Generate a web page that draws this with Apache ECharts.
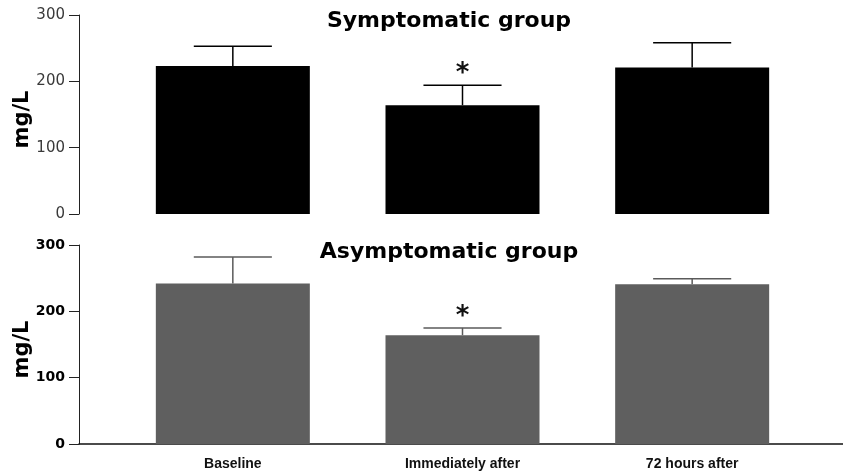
<!DOCTYPE html>
<html>
<head>
<meta charset="utf-8">
<title>Serum levels by group</title>
<script src="https://cdn.jsdelivr.net/npm/echarts@6/dist/echarts.min.js"></script>
<style>
  html, body { margin: 0; padding: 0; background: #ffffff; }
  #chart { width: 843px; height: 475px; }
</style>
</head>
<body>
<div id="chart"></div>
<script>
// Time points
const categories = ['Baseline', 'Immediately after', '72 hours after'];

// Symptomatic group: means and standard deviations (mg/L)
const symptomaticMean = [223, 164, 221];
const symptomaticSD = [30, 30, 37];

// Asymptomatic group: means and standard deviations (mg/L)
const asymptomaticMean = [242, 164, 241];
const asymptomaticSD = [40, 11, 8];

// Significance markers above each bar
const symptomaticSig = ['', '*', ''];
const asymptomaticSig = ['', '*', ''];

// Y axis ticks
const yTicks = [0, 100, 200, 300];

const chart = echarts.init(document.getElementById('chart'), null, { renderer: 'canvas' });

// Error bar drawn upward from the bar top (mean -> mean + SD), with a cap and optional marker
function errorBarRenderer(means, sds, sigs, color) {
  return function (params, api) {
    const i = api.value(0);
    const base = api.coord([i, means[i]]);
    const top = api.coord([i, means[i] + sds[i]]);
    const band = api.size([1, 0])[0];
    const half = band * 0.17;
    const children = [
      {
        type: 'line',
        shape: { x1: base[0], y1: base[1], x2: top[0], y2: top[1] },
        style: { stroke: color, lineWidth: 1.5 }
      },
      {
        type: 'line',
        shape: { x1: top[0] - half, y1: top[1], x2: top[0] + half, y2: top[1] },
        style: { stroke: color, lineWidth: 1.5 }
      }
    ];
    if (sigs[i]) {
      children.push({
        type: 'text',
        x: top[0],
        y: top[1] + 2,
        style: {
          text: sigs[i],
          fill: '#111',
          font: 'bold 26px "DejaVu Sans"',
          align: 'center',
          verticalAlign: 'bottom'
        }
      });
    }
    return { type: 'group', children: children };
  };
}

const yAxisBase = {
  type: 'value',
  min: yTicks[0],
  max: yTicks[yTicks.length - 1],
  interval: 100,
  offset: 39,
  name: 'mg/L',
  nameLocation: 'middle',
  nameRotate: 90,
  nameGap: 46,
  nameMoveOverlap: false,
  nameTextStyle: {
    fontFamily: 'DejaVu Sans', fontWeight: 'bold', fontSize: 21, color: '#000',
    padding: [0, 10, 0, 0]
  },
  axisLine: { show: true, lineStyle: { color: '#222', width: 1 } },
  axisTick: { show: true, inside: false, length: 10, lineStyle: { color: '#222', width: 1 } },
  splitLine: { show: false }
};

const option = {
  animation: false,
  backgroundColor: '#ffffff',
  title: [
    {
      text: 'Symptomatic group',
      left: 444,
      top: 5,
      textAlign: 'center',
      textStyle: { fontFamily: 'DejaVu Sans', fontWeight: 'bold', fontSize: 22, color: '#000' }
    },
    {
      text: 'Asymptomatic group',
      left: 444,
      top: 236,
      textAlign: 'center',
      textStyle: { fontFamily: 'DejaVu Sans', fontWeight: 'bold', fontSize: 22, color: '#000' }
    }
  ],
  grid: [
    { left: 118, right: 36, top: 15, height: 199, outerBoundsMode: 'none' },
    { left: 118, right: 36, top: 245, height: 199, outerBoundsMode: 'none' },
    { left: 79, right: 0, top: 245, height: 199, outerBoundsMode: 'none' }
  ],
  xAxis: [
    {
      type: 'category', gridIndex: 0, data: categories, show: false
    },
    {
      type: 'category', gridIndex: 1, data: categories,
      axisLine: { show: false }, axisTick: { show: false },
      axisLabel: {
        margin: 13,
        fontFamily: 'Liberation Sans',
        fontWeight: 'bold', fontSize: 14, color: '#111'
      }
    },
    {
      // baseline across the full width of the lower panel
      type: 'value', gridIndex: 2, min: 0, max: 1,
      axisLine: { show: true, lineStyle: { color: '#111', width: 1.5 } },
      axisTick: { show: false }, axisLabel: { show: false }, splitLine: { show: false }
    }
  ],
  yAxis: [
    Object.assign({}, yAxisBase, {
      gridIndex: 0,
      axisLabel: { margin: 14, fontFamily: 'DejaVu Sans', fontSize: 15, color: '#3a3a3a' }
    }),
    Object.assign({}, yAxisBase, {
      gridIndex: 1,
      axisLabel: { margin: 14, fontFamily: 'DejaVu Sans', fontWeight: 'bold', fontSize: 14, color: '#000' }
    }),
    { type: 'value', gridIndex: 2, min: 0, max: 300, show: false }
  ],
  series: [
    {
      name: 'Symptomatic group',
      type: 'bar',
      xAxisIndex: 0, yAxisIndex: 0,
      data: symptomaticMean,
      barWidth: 154,
      itemStyle: { color: '#000000' }
    },
    {
      type: 'custom',
      xAxisIndex: 0, yAxisIndex: 0,
      data: categories.map((c, i) => [i, symptomaticMean[i] + symptomaticSD[i]]),
      renderItem: errorBarRenderer(symptomaticMean, symptomaticSD, symptomaticSig, '#000'),
      z: 5
    },
    {
      name: 'Asymptomatic group',
      type: 'bar',
      xAxisIndex: 1, yAxisIndex: 1,
      data: asymptomaticMean,
      barWidth: 154,
      itemStyle: { color: '#5f5f5f' }
    },
    {
      type: 'custom',
      xAxisIndex: 1, yAxisIndex: 1,
      data: categories.map((c, i) => [i, asymptomaticMean[i] + asymptomaticSD[i]]),
      renderItem: errorBarRenderer(asymptomaticMean, asymptomaticSD, asymptomaticSig, '#5a5a5a'),
      z: 5
    }
  ]
};

chart.setOption(option);
</script>
</body>
</html>
